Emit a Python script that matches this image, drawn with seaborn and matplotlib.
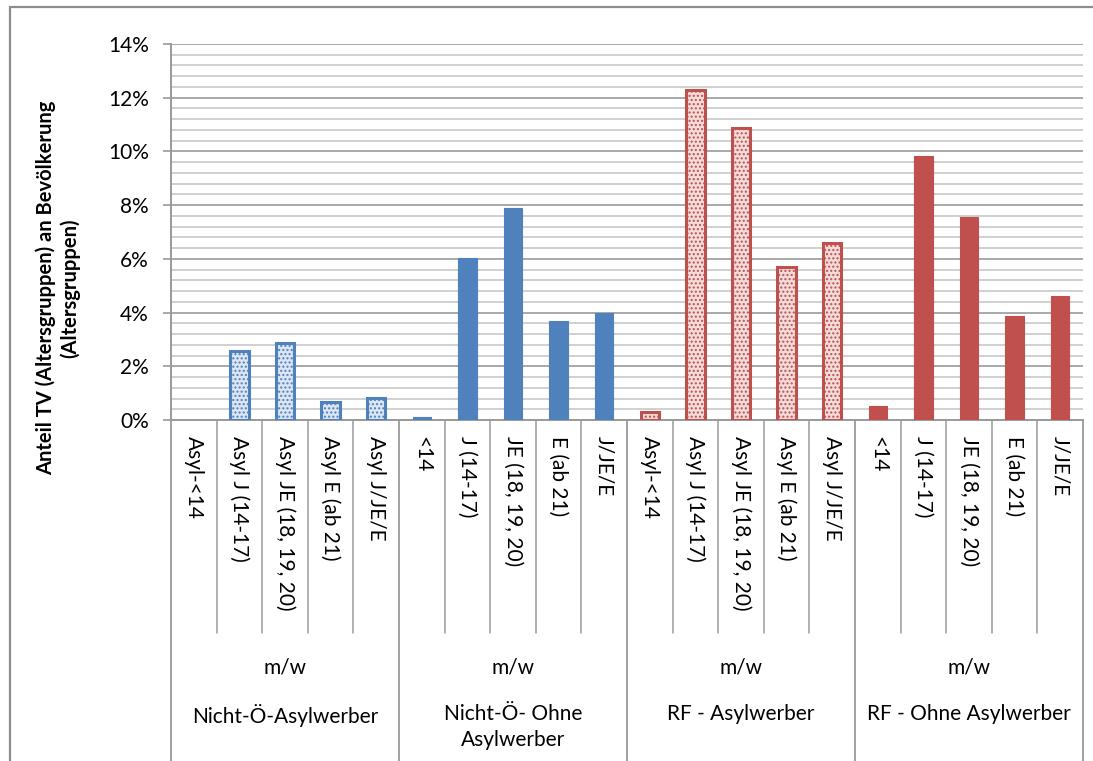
import numpy as np
import pandas as pd
import matplotlib
matplotlib.use("Agg")
import matplotlib.pyplot as plt
import matplotlib.patches as mpatches
import matplotlib.transforms as mtransforms
from matplotlib.ticker import MultipleLocator, FuncFormatter
import seaborn as sns

# --- data -----------------------------------------------------------------
groups = ["Nicht-Ö-Asylwerber", "Nicht-Ö- Ohne\nAsylwerber",
          "RF - Asylwerber", "RF - Ohne Asylwerber"]
sub_label = "m/w"
age_labels = [
    ["Asyl-<14", "Asyl J (14-17)", "Asyl JE (18, 19, 20)", "Asyl E (ab 21)", "Asyl J/JE/E"],
    ["<14", "J (14-17)", "JE (18, 19, 20)", "E (ab 21)", "J/JE/E"],
    ["Asyl-<14", "Asyl J (14-17)", "Asyl JE (18, 19, 20)", "Asyl E (ab 21)", "Asyl J/JE/E"],
    ["<14", "J (14-17)", "JE (18, 19, 20)", "E (ab 21)", "J/JE/E"],
]
values = [
    [0.0000, 0.0258, 0.0285, 0.0066, 0.0083],
    [0.0012, 0.0603, 0.0788, 0.0369, 0.0398],
    [0.0029, 0.1229, 0.1086, 0.0568, 0.0658],
    [0.0053, 0.0983, 0.0757, 0.0386, 0.0460],
]
y_ticks = [0.00, 0.02, 0.04, 0.06, 0.08, 0.10, 0.12, 0.14]
y_title = "Anteil TV (Altersgruppen) an Bevölkerung\n(Altersgruppen)"

# --- styling ----------------------------------------------------------------
BLUE = "#4F81BD"
RED = "#C0504D"
group_colors = {groups[0]: BLUE, groups[1]: BLUE, groups[2]: RED, groups[3]: RED}
hatched_groups = {groups[0], groups[2]}
light_fill = {BLUE: "#DCE6F2", RED: "#F2DCDB"}
hatch_ink = {BLUE: "#8EAADB", RED: "#E6A5A3"}
GRID_MAJOR = "#9A9A9A"
GRID_MINOR = "#D0D0D0"
AXIS_GREY = "#9A9A9A"
FONT = ["Lato", "DejaVu Sans"]
FS = 15

rows = []
for g, labs, vals in zip(groups, age_labels, values):
    for lab, v in zip(labs, vals):
        rows.append({"slot": f"{g}|{lab}", "group": g, "label": lab, "value": v})
df = pd.DataFrame(rows)
order = list(df["slot"])

sns.set_theme(style="white")
plt.rcParams["font.family"] = FONT
plt.rcParams["hatch.linewidth"] = 1.0

W, H = 1093, 761
fig = plt.figure(figsize=(W / 100, H / 100), dpi=100)
ax = fig.add_axes([171 / W, 1 - 420 / H, 912 / W, 376 / H])

sns.barplot(data=df, x="slot", y="value", hue="group", order=order,
            palette=group_colors, dodge=False, width=0.4, legend=False,
            saturation=1, ax=ax)

# style each bar by looking up the group it belongs to
for p in ax.patches:
    idx = int(round(p.get_x() + p.get_width() / 2))
    if idx < 0 or idx >= len(df):
        continue
    if p.get_height() <= 0:
        p.set_visible(False)
        continue
    g = df.loc[idx, "group"]
    c = group_colors[g]
    if g in hatched_groups:
        p.set_facecolor(light_fill[c])
        p.set_edgecolor(c)
        p.set_linewidth(2.2)
        p.set_hatch("....")
        try:
            p.set_hatchcolor(hatch_ink[c])
        except AttributeError:
            pass
    else:
        p.set_facecolor(c)
        p.set_edgecolor(c)
        p.set_linewidth(0.8)
    p.set_zorder(3)

n = len(df)
ax.set_xlim(-0.5, n - 0.5)
ax.set_ylim(y_ticks[0], y_ticks[-1])
ax.yaxis.set_major_locator(matplotlib.ticker.FixedLocator(y_ticks))
ax.yaxis.set_minor_locator(MultipleLocator(0.004))
ax.yaxis.set_major_formatter(FuncFormatter(lambda v, _: f"{v * 100:.0f}%"))
ax.grid(which="major", axis="y", color=GRID_MAJOR, linewidth=1.2, zorder=0)
ax.grid(which="minor", axis="y", color=GRID_MINOR, linewidth=1.4, zorder=0)
ax.set_axisbelow(True)
ax.tick_params(axis="y", which="major", length=6, width=1.2, color=AXIS_GREY,
               labelsize=FS, pad=10, left=True, labelcolor="black")
ax.tick_params(axis="y", which="minor", length=0)
ax.tick_params(axis="x", length=0, labelbottom=False)
ax.set_xlabel("")
ax.set_ylabel("")
for s in ["top", "right"]:
    ax.spines[s].set_visible(False)
for s in ["left", "bottom"]:
    ax.spines[s].set_color(AXIS_GREY)
    ax.spines[s].set_linewidth(1.4)

# multi-level category axis
trans = mtransforms.blended_transform_factory(ax.transData, ax.transAxes)
y_inner = (420 - 633) / 376
y_bottom = (420 - 775) / 376
for k in range(0, n + 1):
    outer = (k % 5 == 0)
    ax.plot([k - 0.5, k - 0.5], [0, y_bottom if outer else y_inner],
            transform=trans, color=AXIS_GREY, linewidth=1.3 if outer else 1.1,
            clip_on=False, zorder=1)

for i, lab in enumerate(df["label"]):
    ax.text(i, (420 - 436) / 376, lab, transform=trans, rotation=270,
            ha="center", va="top", fontsize=FS, color="black")

for gi, g in enumerate(groups):
    cx = gi * 5 + 2
    ax.text(cx, (420 - 667) / 376, sub_label, transform=trans,
            ha="center", va="center", fontsize=FS, color="black")
    ax.text(cx, (420 - 704) / 376, g, transform=trans,
            ha="center", va="top", fontsize=FS, color="black",
            linespacing=1.4)

fig.text(58 / W, 1 - 288 / H, y_title, rotation=90, ha="center", va="center",
         fontsize=14.5, fontweight="bold", color="black", linespacing=1.25)

# chart-area frame
frame = mpatches.Rectangle((10 / W, -0.2), 1.2, 1.2 - 7 / H,
                           transform=fig.transFigure, fill=False,
                           edgecolor="#8C8C8C", linewidth=1.6, zorder=10)
fig.patches.append(frame)

fig.savefig("out.png", dpi=100)
